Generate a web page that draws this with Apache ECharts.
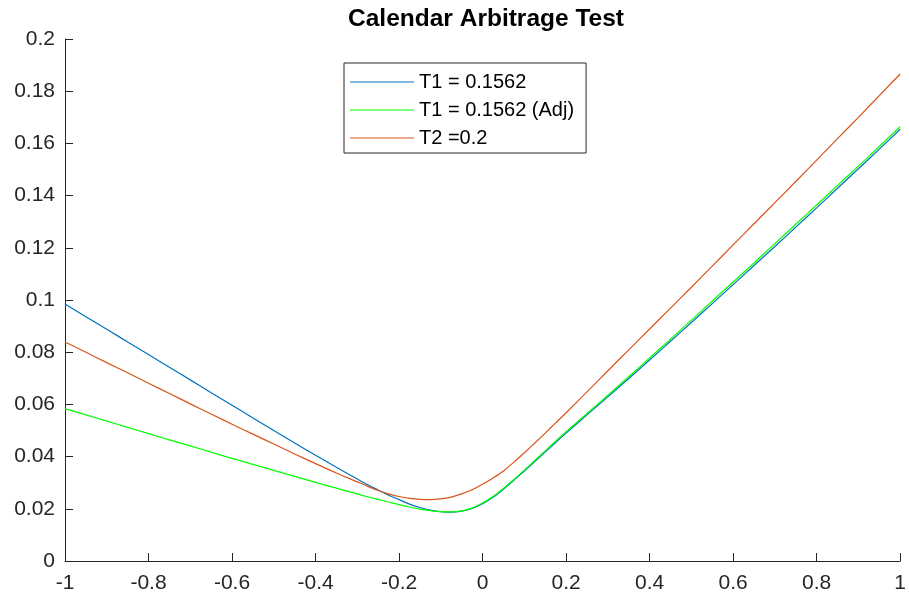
<!DOCTYPE html>
<html>
<head>
<meta charset="utf-8">
<title>Calendar Arbitrage Test</title>
<script src="https://cdn.jsdelivr.net/npm/echarts@6/dist/echarts.min.js"></script>
<style>
  html, body { margin: 0; padding: 0; background: #ffffff; }
  #chart { width: 909px; height: 601px; }
</style>
</head>
<body>
<div id="chart"></div>
<script>
// Log-moneyness grid (denser around the smile minimum)
const kGrid = [
  -1.00, -0.95, -0.90, -0.85, -0.80, -0.75, -0.70, -0.65, -0.60, -0.55,
  -0.50, -0.45, -0.40, -0.35, -0.30, -0.275, -0.25, -0.225, -0.20, -0.175,
  -0.15, -0.125, -0.10, -0.075, -0.05, -0.025, 0.00, 0.025, 0.05, 0.075,
   0.10, 0.125, 0.15, 0.175, 0.20, 0.25, 0.30, 0.35, 0.40, 0.45,
   0.50, 0.55, 0.60, 0.65, 0.70, 0.75, 0.80, 0.85, 0.90, 0.95, 1.00
];

// Total implied variance, first expiry T1 = 0.1562
const varT1 = [
  0.0985, 0.0936, 0.0888, 0.0839, 0.0791, 0.0742, 0.0694, 0.0645, 0.0597, 0.0548,
  0.0500, 0.0452, 0.0405, 0.0359, 0.0314, 0.0292, 0.0272, 0.0252, 0.0235, 0.0218,
  0.0205, 0.0195, 0.0189, 0.0187, 0.0191, 0.0201, 0.0219, 0.0244, 0.0275, 0.0309,
  0.0345, 0.0381, 0.0418, 0.0454, 0.0490, 0.0560, 0.0629, 0.0699, 0.0770, 0.0842,
  0.0914, 0.0986, 0.1059, 0.1132, 0.1205, 0.1279, 0.1353, 0.1428, 0.1503, 0.1578, 0.1654
];

// First expiry after the calendar adjustment
const varT1Adj = [
  0.0584, 0.0560, 0.0536, 0.0512, 0.0488, 0.0464, 0.0441, 0.0417, 0.0393, 0.0370,
  0.0347, 0.0324, 0.0301, 0.0279, 0.0257, 0.0246, 0.0236, 0.0226, 0.0216, 0.0207,
  0.0199, 0.0193, 0.0189, 0.0188, 0.0192, 0.0203, 0.0222, 0.0247, 0.0278, 0.0312,
  0.0348, 0.0385, 0.0422, 0.0459, 0.0495, 0.0565, 0.0635, 0.0706, 0.0778, 0.0850,
  0.0923, 0.0996, 0.1069, 0.1142, 0.1216, 0.1290, 0.1364, 0.1439, 0.1513, 0.1588, 0.1664
];

// Second expiry T2 = 0.2
const varT2 = [
  0.0839, 0.0800, 0.0760, 0.0721, 0.0681, 0.0642, 0.0602, 0.0563, 0.0524, 0.0486,
  0.0448, 0.0410, 0.0373, 0.0337, 0.0303, 0.0286, 0.0270, 0.0257, 0.0247, 0.0240,
  0.0236, 0.0235, 0.0238, 0.0245, 0.0257, 0.0273, 0.0294, 0.0318, 0.0345, 0.0379,
  0.0415, 0.0452, 0.0490, 0.0529, 0.0568, 0.0648, 0.0729, 0.0809, 0.0889, 0.0969,
  0.1049, 0.1130, 0.1211, 0.1292, 0.1373, 0.1454, 0.1536, 0.1618, 0.1700, 0.1783, 0.1866
];

const seriesNames = ['T1 = 0.1562', 'T1 = 0.1562 (Adj)', 'T2 =0.2'];
const seriesColors = ['#0072BD', '#00FF00', '#D95319'];
const seriesValues = [varT1, varT1Adj, varT2];

const FONT = '"Liberation Sans", Arial, Helvetica, sans-serif';
const INK = '#262626';

const chart = echarts.init(document.getElementById('chart'), null, { renderer: 'canvas' });

chart.setOption({
  animation: false,
  backgroundColor: '#ffffff',
  title: {
    text: 'Calendar Arbitrage Test',
    left: 486,
    top: 7,
    padding: 0,
    textAlign: 'center',
    textStyle: { fontFamily: FONT, fontSize: 24.5, fontWeight: 'bold', color: '#000000' }
  },
  legend: {
    orient: 'vertical',
    left: 344,
    top: 63,
    padding: [9, 12, 5, 6],
    itemWidth: 64,
    itemHeight: 1.2,
    itemGap: 8,
    icon: 'rect',
    borderColor: INK,
    borderWidth: 1,
    backgroundColor: '#ffffff',
    data: seriesNames,
    textStyle: { fontFamily: FONT, fontSize: 20, color: '#000000' }
  },
  grid: { left: 65, right: 2, top: 39, bottom: 40, containLabel: false },
  xAxis: {
    type: 'value',
    min: -1,
    max: 1,
    interval: 0.2,
    axisLine: { show: true, onZero: false, lineStyle: { color: INK, width: 1 } },
    axisTick: { show: true, inside: true, length: 8, lineStyle: { color: INK } },
    axisLabel: { margin: 12, fontFamily: FONT, fontSize: 21, color: INK },
    splitLine: { show: false }
  },
  yAxis: {
    type: 'value',
    min: 0,
    max: 0.2,
    interval: 0.02,
    axisLine: { show: true, onZero: false, lineStyle: { color: INK, width: 1 } },
    axisTick: { show: true, inside: true, length: 8, lineStyle: { color: INK } },
    axisLabel: { margin: 10, fontFamily: FONT, fontSize: 21, color: INK },
    splitLine: { show: false }
  },
  series: seriesNames.map((name, i) => ({
    name: name,
    type: 'line',
    symbol: 'none',
    smooth: 0.3,
    color: seriesColors[i],
    lineStyle: { width: 1.2, color: seriesColors[i] },
    data: kGrid.map((k, j) => [k, seriesValues[i][j]])
  }))
});
</script>
</body>
</html>
